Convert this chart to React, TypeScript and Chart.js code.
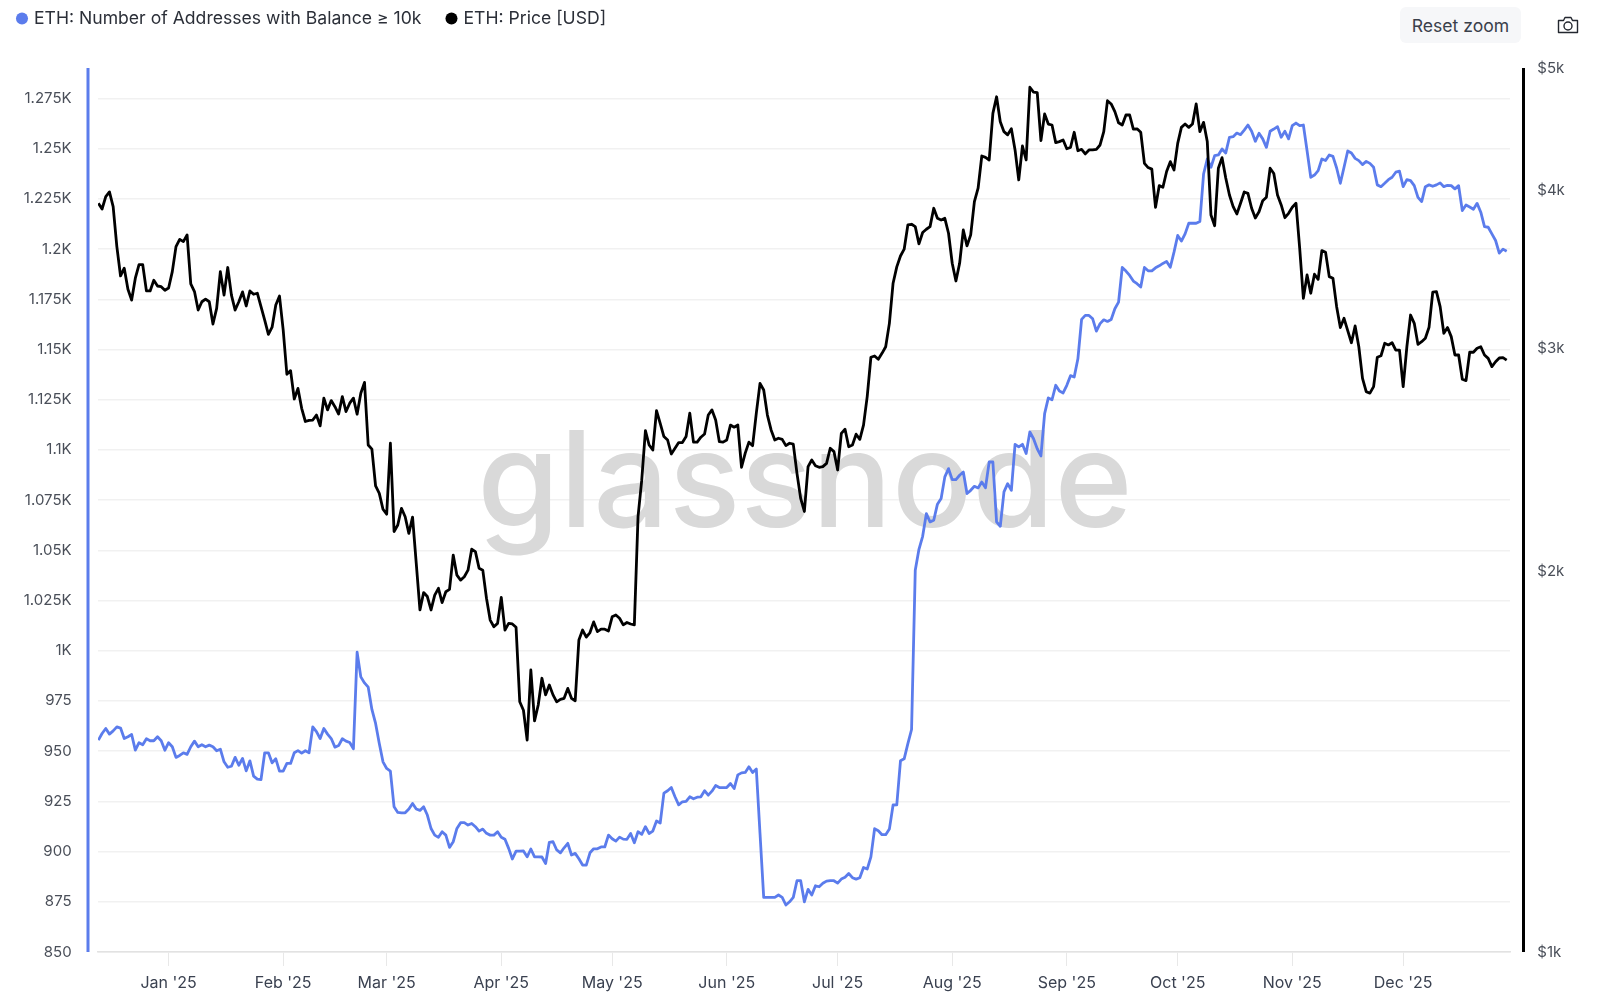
import React, { useEffect, useRef } from "react";
import { Chart, registerables } from "chart.js";

Chart.register(...registerables);

const seriesNames = ["ETH: Number of Addresses with Balance ≥ 10k", "ETH: Price [USD]"];
const firstDay = -19; // days relative to 1 Jan 2025

const monthDays = [0, 31, 59, 90, 120, 151, 181, 212, 243, 273, 304, 334];
const monthLabels = ["Jan '25", "Feb '25", "Mar '25", "Apr '25", "May '25", "Jun '25", "Jul '25", "Aug '25", "Sep '25", "Oct '25", "Nov '25", "Dec '25"];
const leftTicks = [850, 875, 900, 925, 950, 975, 1000, 1025, 1050, 1075, 1100, 1125, 1150, 1175, 1200, 1225, 1250, 1275];
const rightTicks = [1000, 2000, 3000, 4000, 5000];

const addresses = [
  955.5, 958.8, 961.3, 958.5, 960.1, 962.1, 961.5, 956.3, 957.2, 958.3, 950.5, 954.2, 953.2, 956.2, 955.2, 955.2, 957.2, 955.2, 950.5,
  954.2, 952.2, 946.9, 947.9, 949.2, 948.4, 952.2, 955, 952.2, 953.2, 952.2, 953, 952.2, 950.2, 951, 944.7, 942, 942.5, 946.9, 943, 946.4,
  940.2, 945.2, 937.6, 936.1, 935.9, 949.2, 949.2, 944.2, 946.2, 940.1, 940.1, 943.9, 943.9, 949.2, 950.3, 949, 950.2, 949.2, 962.1, 959.7,
  956.3, 961.3, 958.5, 956.3, 952, 952.8, 956.2, 955, 954.3, 951.2, 999.3, 987, 984, 981.9, 970.8, 963.8, 953.8, 944.7, 941.4, 940.1,
  922.3, 919.5, 919.3, 919.3, 921.2, 924, 921.2, 920.5, 922.3, 918.2, 911.5, 908.2, 907.1, 909.9, 908.2, 902.1, 904.9, 911.5, 914.4, 914.4,
  913.2, 914, 912.4, 910.2, 911.2, 909.1, 908.2, 908.2, 909.9, 907.1, 906.1, 901.6, 896.3, 900.2, 900.2,
  900.3, 897.4, 901.3, 897.4, 897.4, 897.3, 894.1, 904.6, 904.9, 900.8, 899.4, 901.9, 904.1, 898.3, 899.1, 896.4, 893.3, 893.3, 899.4,
  901.4, 901.4, 902.3, 902.3, 908.2, 906.4, 905.2, 907.2, 906.2, 906.1, 909, 904.4, 909.9, 908.6, 912.4, 909, 910.2, 915.2, 914.2, 929.1,
  930.3, 931.9, 927.3, 923.3, 924.8, 925, 927.3, 926.3, 927.1, 927.3, 930.3, 928.1, 930.1, 932.9, 931.9, 931.9, 931.9, 933.9, 931.4, 938.2,
  939.2, 939.4, 942.2, 939.4, 941.1, 909, 877.2, 877.2, 877.2, 877.2, 878.4, 877.2, 873.4, 875, 877.2, 885.5, 885.5, 875, 881.2, 878.4,
  883, 882.5, 884.2, 885.3, 885.5, 885.5, 884.3, 886.3, 887.2, 889.1, 887, 886.3, 887, 892.1, 891.3, 897.4, 911.4, 910.4, 908.4, 908.4,
  911.2, 923.2, 923.3, 945.2, 946.2, 953.8, 960.8, 1040.1, 1050.5, 1057, 1068.3, 1064.2, 1065, 1073, 1075.8, 1086.6, 1090.7, 1085.2, 1085.2,
  1087.4, 1089, 1078.3, 1079.9, 1081.9, 1081.1, 1084, 1081.2, 1094, 1094, 1064.2, 1062, 1079.1, 1083.2, 1079.9, 1102.8, 1101.5, 1102.8,
  1098.2, 1109, 1105.6, 1100.6, 1097, 1118.1, 1125.9, 1125, 1132.2, 1129.3, 1128.4, 1132.2, 1137, 1136.3, 1145.4, 1165, 1167, 1167, 1165.3,
  1159.2, 1162.9, 1164.8, 1164, 1165, 1170.3, 1173.6, 1190.9, 1189.1, 1186.9, 1184.1, 1182.8, 1181.1, 1190.9, 1189.2, 1189.2, 1190.7,
  1191.7, 1192.9, 1193.9, 1191, 1198.5, 1206.8, 1204, 1207.6, 1212.9, 1212.9, 1212.9, 1213.8,
  1237.4, 1244.9, 1240.8, 1246.6, 1246.9, 1249.9, 1247.9, 1255.7, 1256, 1257.8, 1257, 1259.3, 1261.8, 1258.7, 1253.7, 1257.7, 1254.9,
  1250.7, 1258.7, 1259.8, 1261, 1255.7, 1258.7, 1254.9, 1261.5, 1262.8, 1261.5, 1261.8, 1249, 1235.8, 1236.9, 1239.1, 1244.9, 1244.1,
  1246.9, 1246.2, 1240.4, 1232.8, 1240.8, 1248.9, 1247.9, 1245.2, 1244.1, 1242.1, 1243.7, 1242.7, 1240.8, 1232, 1231.1, 1232.8, 1234.6,
  1235.8, 1238.3, 1238.8, 1231.1, 1234.6, 1234.1, 1231.6, 1225.8, 1223.7, 1231.1, 1232, 1231.3, 1232, 1233, 1231.1, 1231.8, 1231.6, 1230,
  1231.6, 1219.2, 1222, 1221, 1219.9, 1222.8, 1218.4, 1211.2, 1210.9, 1207.6, 1204.3, 1198, 1200, 1199,
];

const price = [
  3909, 3868, 3956, 3990, 3885, 3612, 3424, 3473, 3342, 3277, 3410, 3495, 3495, 3332, 3332, 3397, 3362, 3358, 3336,
  3350, 3451, 3612, 3660, 3645, 3690, 3375, 3328, 3218, 3267, 3283, 3267, 3137, 3228, 3451, 3307, 3477, 3307, 3218, 3267, 3326,
  3242, 3332, 3312, 3318, 3238, 3160, 3079, 3119, 3248, 3301, 3104, 2863, 2882, 2737, 2790, 2691, 2627, 2632, 2634, 2658,
  2606, 2741, 2683, 2729, 2699, 2663, 2749, 2675, 2716, 2741, 2662, 2766, 2821, 2517, 2498, 2336, 2305, 2239, 2219, 2525,
  2150, 2176, 2243, 2209, 2143, 2207, 2029, 1864, 1924, 1910, 1864, 1915, 1939, 1889, 1927, 1935, 2060, 1986, 1968, 1980,
  2004, 2082, 2073, 2011, 2004, 1904, 1830, 1808, 1819, 1907, 1797, 1819, 1817, 1806, 1577, 1553, 1471, 1671, 1523, 1568,
  1646, 1597, 1626, 1597, 1577, 1584, 1587, 1616, 1587, 1580, 1765, 1797, 1774, 1789, 1824, 1792, 1800, 1800, 1794, 1841,
  1847, 1836, 1814, 1822, 1817, 1814, 2209, 2361, 2584, 2517, 2494, 2680, 2618, 2556, 2540, 2476, 2502, 2528, 2528, 2556,
  2667, 2530, 2530, 2553, 2568, 2658, 2683, 2634, 2532, 2530, 2540, 2610, 2600, 2610, 2417, 2480, 2530, 2514, 2667, 2816,
  2782, 2658, 2587, 2540, 2548, 2543, 2514, 2525, 2521, 2390, 2284, 2230, 2420, 2449, 2424, 2417, 2420, 2434, 2502, 2487,
  2405, 2571, 2590, 2509, 2517, 2567, 2543, 2610, 2749, 2953, 2960, 2942, 2974, 3010, 3141, 3379, 3481, 3551, 3595, 3757,
  3762, 3746, 3630, 3706, 3728, 3746, 3873, 3803, 3791, 3803, 3701, 3504, 3393, 3504, 3723, 3617, 3690, 3920, 4017, 4260,
  4249, 4229, 4604, 4745, 4534, 4453, 4427, 4476, 4307, 4078, 4338, 4229, 4828, 4785, 4780, 4381, 4599, 4515, 4507, 4365,
  4373, 4386, 4316, 4326, 4448, 4301, 4312, 4276, 4307, 4307, 4312, 4346, 4453, 4711, 4683, 4618, 4526, 4507, 4590, 4590,
  4474, 4476, 4448, 4203, 4171, 4159, 3880, 4036, 4024, 4141, 4216, 4153, 4359, 4488, 4515, 4488, 4515, 4683, 4453, 4529,
  4373, 3826, 3752, 4166, 4247, 4092, 3968, 3885, 3833, 3909, 3990, 3980, 3873, 3805, 3849, 3927, 3952, 4166, 4126, 3968,
  3897, 3807, 3838, 3880, 3909, 3602, 3287, 3430, 3318, 3435, 3403, 3586, 3575, 3420, 3410, 3238, 3117, 3170, 3100, 3032,
  3126, 3010, 2842, 2774, 2766, 2799, 2953, 2961, 3029, 3020, 3032, 2992, 2992, 2799, 3010, 3189, 3141, 3023, 3038, 3057,
  3119, 3324, 3328, 3238, 3085, 3117, 3066, 2965, 2965, 2837, 2830, 2980, 2980, 3002, 3010, 2965, 2947, 2903, 2929, 2949, 2951, 2938,
];

const BLUE = "#5b7cec";
const BLACK = "#000000";
const FONT = "Inter, sans-serif";

const toPoints = (vals: number[]) => vals.map((y, i) => ({ x: firstDay + i, y }));

const decorations = {
  id: "decorations",
  beforeInit(chart: any) {
    const fit = chart.legend.fit;
    chart.legend.fit = function () {
      fit.call(this);
      this.height = 85;
    };
  },
  beforeDatasetsDraw(chart: any) {
    const { ctx, chartArea } = chart;
    ctx.save();
    ctx.font = `500 133px ${FONT}`;
    ctx.fillStyle = "rgb(217,217,217)";
    ctx.textAlign = "center";
    ctx.textBaseline = "alphabetic";
    ctx.fillText("glassnode", (chartArea.left + chartArea.right) / 2 + 1, chartArea.top + 459);
    ctx.restore();
  },
  afterDraw(chart: any) {
    const { ctx, scales } = chart;
    ctx.save();
    ctx.lineWidth = 3;
    ctx.strokeStyle = BLUE;
    ctx.beginPath();
    ctx.moveTo(scales.y.right - 10, scales.y.top);
    ctx.lineTo(scales.y.right - 10, scales.y.bottom);
    ctx.stroke();
    ctx.strokeStyle = BLACK;
    ctx.beginPath();
    ctx.moveTo(scales.y1.left + 13.5, scales.y1.top);
    ctx.lineTo(scales.y1.left + 13.5, scales.y1.bottom);
    ctx.stroke();
    ctx.restore();
  },
};

export default function App() {
  const ref = useRef<HTMLCanvasElement>(null);
  useEffect(() => {
    document.body.style.margin = "0";
    document.body.style.background = "#fff";
    const chart = new Chart(ref.current!, {
      type: "line",
      data: {
        datasets: [
          { label: seriesNames[0], data: toPoints(addresses), yAxisID: "y", borderColor: BLUE, backgroundColor: BLUE, borderWidth: 2.8, pointRadius: 0, tension: 0, order: 2, borderJoinStyle: "round" },
          { label: seriesNames[1], data: toPoints(price), yAxisID: "y1", borderColor: BLACK, backgroundColor: BLACK, borderWidth: 2.8, pointRadius: 0, tension: 0, order: 1, borderJoinStyle: "round" },
        ],
      } as any,
      plugins: [decorations as any],
      options: {
        animation: false,
        responsive: false,
        devicePixelRatio: 1,
        parsing: false,
        normalized: true,
        layout: { padding: 0 },
        events: [],
        plugins: {
          tooltip: { enabled: false },
          legend: {
            position: "top",
            align: "start",
            labels: {
              usePointStyle: true,
              pointStyle: "circle",
              boxWidth: 6.4,
              boxHeight: 8.5,
              padding: 26.8,
              color: "#2b2f38",
              font: { family: FONT, size: 17.6, lineHeight: 1 },
              sort: (a: any, b: any) => a.datasetIndex - b.datasetIndex,
              generateLabels: (c: any) =>
                Chart.defaults.plugins.legend.labels.generateLabels(c).map((l: any) => ({ ...l, lineWidth: 0 })),
            },
          },
        },
        scales: {
          x: {
            type: "linear",
            min: -19.1,
            max: 362.9,
            afterBuildTicks: (s: any) => { s.ticks = monthDays.map((value) => ({ value })); },
            afterFit: (s: any) => { s.height = 50; },
            border: { color: "#e2e2e2", width: 1.5 },
            grid: { drawOnChartArea: false, drawTicks: true, tickLength: 14, tickColor: "#e8e8e8", tickWidth: 1 },
            ticks: {
              autoSkip: false,
              maxRotation: 0,
              padding: 8,
              color: "#3a4150",
              font: { family: FONT, size: 16 },
              callback: (_v: any, i: number) => monthLabels[i],
            },
          },
          y: {
            type: "linear",
            position: "left",
            min: 850,
            max: 1290.2,
            afterBuildTicks: (s: any) => { s.ticks = leftTicks.map((value) => ({ value })); },
            afterFit: (s: any) => { s.width = 106; },
            border: { display: false },
            grid: { color: "#f1f1f1", lineWidth: 1.5, drawTicks: false },
            ticks: {
              padding: 26.4,
              color: "#4a4f59",
              font: { family: FONT, size: 15 },
              callback: (v: any) => (v >= 1000 ? `${v / 1000}K` : `${v}`),
            },
          },
          y1: {
            type: "logarithmic",
            position: "right",
            min: 1000,
            max: 5000,
            afterBuildTicks: (s: any) => { s.ticks = rightTicks.map((value) => ({ value })); },
            afterFit: (s: any) => { s.width = 90; },
            border: { display: false },
            grid: { drawOnChartArea: false, drawTicks: false },
            ticks: {
              padding: 27.3,
              color: "#4a4f59",
              font: { family: FONT, size: 15 },
              callback: (v: any) => `$${v / 1000}k`,
            },
          },
        },
      } as any,
    });
    return () => chart.destroy();
  }, []);

  return (
    <div style={{ position: "fixed", inset: 0, overflow: "hidden", background: "#fff" }}>
      <canvas ref={ref} width={1608} height={1019} style={{ position: "absolute", left: -8, top: -17, width: 1608, height: 1019 }} />
      <div
        style={{
          position: "absolute", left: 1400, top: 7, width: 121, height: 36, borderRadius: 6, background: "#f6f7f9",
          color: "#3a404b", font: `17.6px ${FONT}`, display: "flex", alignItems: "center", justifyContent: "center",
        }}
      >
        Reset zoom
      </div>
      <svg style={{ position: "absolute", left: 1557, top: 16 }} width="22" height="18" viewBox="0 0 22 18" fill="none" stroke="#23272f" strokeWidth="1.4">
        <path d="M1.5 4.5 H6.5 L8 1.5 H14 L15.5 4.5 H20.5 V16.5 H1.5 Z" strokeLinejoin="round" />
        <circle cx="11" cy="10" r="4" />
      </svg>
    </div>
  );
}
